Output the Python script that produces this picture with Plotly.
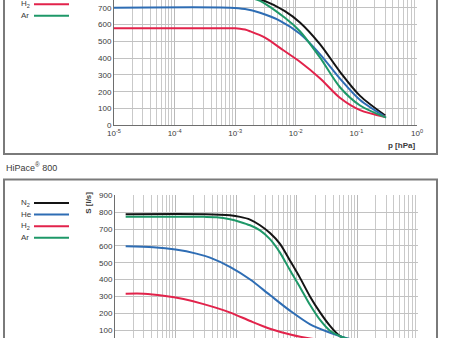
import plotly.graph_objects as go

W, H = 450, 338

# Pumping speed S [l/s] versus inlet pressure p [hPa]
gases = ["N<sub>2</sub>", "He", "H<sub>2</sub>", "Ar"]
colors = ["#141414", "#2e6db4", "#e2234b", "#1e9868"]

# Upper chart
top_p_n2 = [1e-5, 2.6e-4, 8.2e-4, 2.77e-3, 6.6e-3, 1.17e-2, 2.5e-2, 5.4e-2, 0.115, 0.30]
top_s_n2 = [795, 795, 788, 746, 680, 612, 483, 317, 175, 58]
top_p_he = [1e-5, 8.2e-4, 1.45e-3, 2.57e-3, 5.5e-3, 1.17e-2, 2.5e-2, 5.4e-2, 0.115, 0.30]
top_s_he = [700, 700, 692, 670, 622, 545, 424, 276, 150, 50]
top_p_h2 = [1e-5, 1e-3, 1.2e-3, 1.45e-3, 1.75e-3, 3.1e-3, 6.15e-3, 1.17e-2, 2.5e-2, 5.4e-2, 0.115, 0.30]
top_s_h2 = [577, 577, 575, 570, 560, 522, 448, 378, 280, 162, 90, 49]
top_p_ar = [1e-5, 2.6e-4, 8.2e-4, 2.38e-3, 6.6e-3, 1.17e-2, 2.5e-2, 5.4e-2, 0.115, 0.31]
top_s_ar = [775, 775, 768, 746, 640, 560, 404, 225, 118, 46]

# Lower chart: HiPace 800
bot_p_n2 = [1.5e-5, 3.1e-4, 7.9e-4, 1.16e-3, 1.69e-3, 2.47e-3, 3.61e-3, 5.28e-3, 7.73e-3,
            1.13e-2, 1.65e-2, 2.42e-2, 3.53e-2, 5.16e-2, 8.1e-2]
bot_s_n2 = [788, 788, 781, 772, 756, 722, 676, 612, 512, 410, 300, 205, 125, 64, 40]
bot_p_he = [1.5e-5, 4.3e-5, 1e-4, 2.2e-4, 3.7e-4, 8e-4, 1.7e-3, 3.6e-3, 7.8e-3, 1.66e-2, 3.55e-2, 5.1e-2, 8e-2]
bot_s_he = [598, 592, 578, 554, 530, 474, 400, 308, 214, 134, 84, 64, 45]
bot_p_h2 = [1.5e-5, 3e-5, 6.3e-5, 1.35e-4, 2.9e-4, 8e-4, 1.7e-3, 3.6e-3, 7.8e-3, 1.66e-2, 3.55e-2]
bot_s_h2 = [316, 316, 304, 284, 254, 204, 154, 108, 74, 50, 38]
bot_p_ar = [1.5e-5, 2.9e-4, 4.76e-4, 7.9e-4, 1.16e-3, 1.69e-3, 2.47e-3, 3.61e-3, 5.28e-3, 7.73e-3,
            1.13e-2, 1.65e-2, 2.42e-2, 3.53e-2, 5.16e-2, 8.1e-2]
bot_s_ar = [772, 772, 770, 758, 742, 722, 692, 640, 560, 455, 355, 250, 160, 96, 64, 42]

x_tickvals = [1e-5, 1e-4, 1e-3, 1e-2, 1e-1, 1]
x_ticktext = ["10<sup>-5</sup>", "10<sup>-4</sup>", "10<sup>-3</sup>",
              "10<sup>-2</sup>", "10<sup>-1</sup>", "10<sup>0</sup>"]
minor_vals = [k * 10.0 ** e for e in range(-5, 0) for k in range(2, 10)]

FONT = "Liberation Sans, Arial, sans-serif"
TXT = "#3a3a3a"


def px(x):
    return x / W


def py(y):
    return 1 - y / H


fig = go.Figure()

top_series = [(top_p_n2, top_s_n2), (top_p_he, top_s_he), (top_p_h2, top_s_h2), (top_p_ar, top_s_ar)]
bot_series = [(bot_p_n2, bot_s_n2), (bot_p_he, bot_s_he), (bot_p_h2, bot_s_h2), (bot_p_ar, bot_s_ar)]

for (p, s), c, g in zip(top_series, colors, gases):
    fig.add_trace(go.Scatter(x=p, y=s, mode="lines", name=g, showlegend=False,
                             line=dict(color=c, width=2, shape="spline", smoothing=0.8),
                             xaxis="x", yaxis="y"))
for (p, s), c, g in zip(bot_series, colors, gases):
    fig.add_trace(go.Scatter(x=p, y=s, mode="lines", name=g, showlegend=False,
                             line=dict(color=c, width=2, shape="spline", smoothing=0.8),
                             xaxis="x2", yaxis="y2"))


def xaxis_cfg(domain, anchor, labels=True):
    return dict(type="log", domain=domain, anchor=anchor, range=[-5, 0], automargin=False,
                tickmode="array", tickvals=x_tickvals, ticktext=x_ticktext,
                showticklabels=labels,
                tickfont=dict(family=FONT, size=8, color=TXT),
                showgrid=True, gridcolor="#b9b9b9", gridwidth=1,
                showline=True, linecolor="#6e6e6e", linewidth=1, mirror=False,
                ticks="", zeroline=False,
                minor=dict(tickmode="array", tickvals=minor_vals, showgrid=True,
                           gridcolor="#c9c9c9", gridwidth=1, ticks=""))


def yaxis_cfg(domain, anchor, rng):
    return dict(domain=domain, anchor=anchor, range=rng, dtick=100, tick0=0, automargin=False,
                tickfont=dict(family=FONT, size=8, color=TXT),
                showgrid=True, gridcolor="#c2c2c2", gridwidth=1,
                showline=True, linecolor="#6e6e6e", linewidth=1,
                ticks="", zeroline=False)


# pixel layout of the two plot areas
top_x0, top_x1, top_y0 = 114, 417, 125.3
top_scale = 0.168
bot_x0, bot_x1, bot_ytop = 115, 418, 195.3
bot_scale = 0.1685
bot_zero = bot_ytop + 900 * bot_scale

fig.update_layout(
    width=W, height=H,
    margin=dict(l=0, r=0, t=0, b=0, autoexpand=False),
    paper_bgcolor="white", plot_bgcolor="white",
    font=dict(family=FONT, color=TXT),
    xaxis=xaxis_cfg([px(top_x0), px(top_x1)], "y"),
    yaxis=yaxis_cfg([py(top_y0), 1], "x", [0, top_y0 / top_scale]),
    xaxis2=xaxis_cfg([px(bot_x0), px(bot_x1)], "y2", labels=False),
    yaxis2=yaxis_cfg([0, py(bot_ytop)], "x2", [(bot_zero - H) / bot_scale, 900]),
)

shapes = []
annotations = []

# framing boxes
shapes.append(dict(type="rect", xref="paper", yref="paper",
                   x0=px(4), x1=px(437), y0=py(154), y1=py(-20),
                   line=dict(color="#7a7a7a", width=2), fillcolor="rgba(0,0,0,0)", layer="below"))
shapes.append(dict(type="rect", xref="paper", yref="paper",
                   x0=px(4), x1=px(437), y0=py(360), y1=py(179.5),
                   line=dict(color="#7a7a7a", width=2), fillcolor="rgba(0,0,0,0)", layer="below"))

# legends (label then line sample); the upper legend starts above the frame
for base in (203.0 - 222.0, 203.0):
    for i, (g, c) in enumerate(zip(gases, colors)):
        yy = base + i * 11.6
        if yy < 0:
            continue
        annotations.append(dict(xref="paper", yref="paper", x=px(19), y=py(yy),
                                xanchor="left", yanchor="middle", showarrow=False,
                                text=g, font=dict(family=FONT, size=8, color=TXT)))
        shapes.append(dict(type="line", xref="paper", yref="paper",
                           x0=px(34), x1=px(69), y0=py(yy), y1=py(yy),
                           line=dict(color=c, width=2)))

# axis titles
annotations.append(dict(xref="paper", yref="paper", x=px(top_x1), y=py(top_y0 + 20.5),
                        xanchor="right", yanchor="middle", showarrow=False,
                        text="<b>p [hPa]</b>", font=dict(family=FONT, size=8, color=TXT)))
annotations.append(dict(xref="paper", yref="paper", x=px(88.5), y=py(bot_ytop + 8),
                        xanchor="center", yanchor="middle", showarrow=False, textangle=-90,
                        text="<b>S [l/s]</b>", font=dict(family=FONT, size=8, color=TXT)))

annotations.append(dict(xref="paper", yref="paper", x=px(4), y=py(166.5),
                        xanchor="left", yanchor="middle", showarrow=False,
                        text="HiPace<sup>®</sup> 800", font=dict(family=FONT, size=9, color=TXT)))

fig.update_layout(shapes=shapes, annotations=annotations)
fig.write_html("out.html")
